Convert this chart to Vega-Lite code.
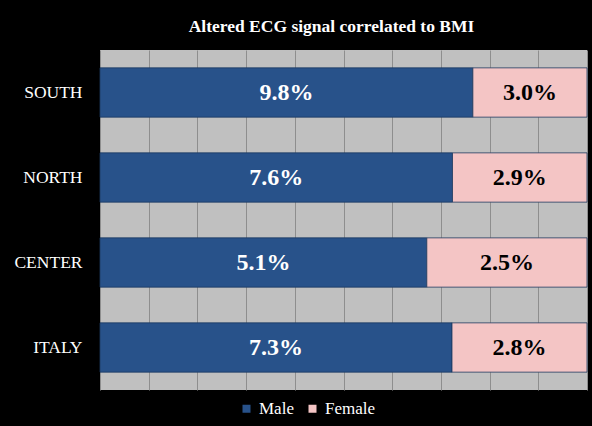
{
  "$schema": "https://vega.github.io/schema/vega-lite/v6.json",
  "width": 487,
  "height": 340,
  "autosize": {"type": "none"},
  "padding": {"left": 100, "top": 50, "right": 5, "bottom": 36},
  "background": "#000000",
  "title": {
    "text": "Altered ECG signal correlated to BMI",
    "color": "#ffffff",
    "font": "Liberation Serif",
    "fontSize": 17.5,
    "fontWeight": "bold",
    "anchor": "middle",
    "offset": 15,
    "dx": -12
  },
  "config": {
    "view": {"fill": "#c0c0c0", "stroke": null},
    "font": "Liberation Serif",
    "legend": {"labelFont": "Liberation Serif", "labelFontSize": 17, "labelColor": "#ffffff"}
  },
  "data": {
    "values": [
      {"region": "SOUTH", "gender": "Male", "value": 9.8},
      {"region": "SOUTH", "gender": "Female", "value": 3.0},
      {"region": "NORTH", "gender": "Male", "value": 7.6},
      {"region": "NORTH", "gender": "Female", "value": 2.9},
      {"region": "CENTER", "gender": "Male", "value": 5.1},
      {"region": "CENTER", "gender": "Female", "value": 2.5},
      {"region": "ITALY", "gender": "Male", "value": 7.3},
      {"region": "ITALY", "gender": "Female", "value": 2.8}
    ]
  },
  "encoding": {
    "y": {
      "field": "region",
      "type": "nominal",
      "sort": null,
      "scale": {"paddingInner": 0.42, "paddingOuter": 0.21},
      "axis": {
        "title": null,
        "domain": false,
        "ticks": false,
        "labelColor": "#ffffff",
        "labelFont": "Liberation Serif",
        "labelFontSize": 17.5,
        "labelPadding": 18
      }
    },
    "x": {
      "field": "value",
      "type": "quantitative",
      "stack": "normalize",
      "scale": {"domain": [0, 1], "nice": false},
      "axis": {
        "title": null,
        "labels": false,
        "ticks": false,
        "domain": false,
        "grid": true,
        "gridColor": "#8e8e8e",
        "gridWidth": 1,
        "values": [0, 0.1, 0.2, 0.3, 0.4, 0.5, 0.6, 0.7, 0.8, 0.9, 1]
      }
    },
    "order": {"field": "gender", "sort": "descending"}
  },
  "layer": [
    {
      "mark": {"type": "bar", "stroke": "#1c3a60", "strokeWidth": 0.8},
      "encoding": {
        "color": {
          "field": "gender",
          "type": "nominal",
          "scale": {"domain": ["Male", "Female"], "range": ["#28528a", "#f4c5c5"]},
          "legend": {
            "title": null,
            "orient": "none",
            "legendX": 138,
            "legendY": 350,
            "direction": "horizontal",
            "symbolType": "square",
            "symbolSize": 64,
            "symbolStrokeWidth": 0,
            "labelColor": "#ffffff",
            "labelFont": "Liberation Serif",
            "labelFontSize": 17,
            "columnPadding": 10,
            "labelOffset": 4,
            "labelLimit": 200,
            "encode": {
              "labels": {
                "update": {
                  "font": {"value": "Liberation Serif"},
                  "fontSize": {"value": 17},
                  "fill": {"value": "#ffffff"}
                }
              }
            }
          }
        }
      }
    },
    {
      "mark": {
        "type": "text",
        "font": "Liberation Serif",
        "fontSize": 24,
        "fontWeight": "bold",
        "baseline": "middle",
        "align": "center",
        "text": {"expr": "format(datum.value, '.1f') + '%'"}
      },
      "encoding": {
        "x": {"field": "value", "type": "quantitative", "stack": "normalize", "bandPosition": 0.5},
        "color": {
          "condition": {"test": "datum.gender === 'Male'", "value": "#ffffff"},
          "value": "#000000"
        }
      }
    }
  ]
}
